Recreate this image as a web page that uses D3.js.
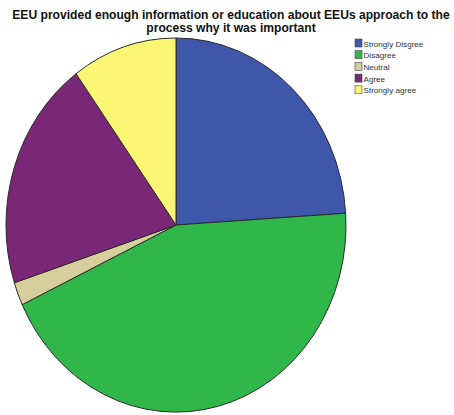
<!DOCTYPE html>
<html>
<head>
<meta charset="utf-8">
<script src="https://cdn.jsdelivr.net/npm/d3@7"></script>
<style>
  html, body { margin: 0; padding: 0; background: #ffffff; }
  svg { display: block; }
</style>
</head>
<body>
<div id="chart"></div>
<script>
// Responses per answer category
const categories = ["Strongly Disgree", "Disagree", "Neutral", "Agree", "Strongly agree"];
const counts = [12, 22, 1, 10, 5];
const colors = ["#3f57ab", "#2fb74a", "#d6cf9c", "#7b2778", "#fbf774"];
const titleLines = [
  "EEU provided enough information or education about EEUs approach to the",
  "process why it was important"
];

const width = 454, height = 415;
const svg = d3.select("#chart").append("svg")
  .attr("width", width).attr("height", height);

// Title
svg.append("g").selectAll("text")
  .data(titleLines)
  .join("text")
  .attr("x", 231)
  .attr("y", (d, i) => 19 + i * 13)
  .attr("text-anchor", "middle")
  .attr("font-family", "Liberation Sans, Arial, sans-serif")
  .attr("font-weight", "bold")
  .attr("font-size", 12.1)
  .attr("fill", "#111")
  .text(d => d);

// Pie (drawn on a unit radius and stretched into the plot's ellipse)
const cx = 176, cy = 225, rx = 170, ry = 187;
const pie = d3.pie().sort(null).value(d => d.v);
const arcs = pie(categories.map((c, i) => ({ c, v: counts[i], col: colors[i] })));
const arc = d3.arc().innerRadius(0).outerRadius(1);

svg.append("g")
  .attr("transform", `translate(${cx},${cy}) scale(${rx},${ry})`)
  .selectAll("path")
  .data(arcs)
  .join("path")
  .attr("d", arc)
  .attr("fill", d => d.data.col)
  .attr("stroke", "#2a2a2a")
  .attr("stroke-width", 1)
  .attr("vector-effect", "non-scaling-stroke");

// Legend
const legend = svg.append("g").attr("transform", "translate(355,39)");
const rows = legend.selectAll("g")
  .data(categories)
  .join("g")
  .attr("transform", (d, i) => `translate(0,${i * 11.7})`);
rows.append("rect")
  .attr("width", 7).attr("height", 8)
  .attr("fill", (d, i) => colors[i])
  .attr("stroke", "#444").attr("stroke-width", 0.6);
rows.append("text")
  .attr("x", 8.5).attr("y", 7.5)
  .attr("font-family", "Liberation Sans, Arial, sans-serif")
  .attr("font-size", 8.1)
  .attr("fill", "#333")
  .text(d => d);
</script>
</body>
</html>
